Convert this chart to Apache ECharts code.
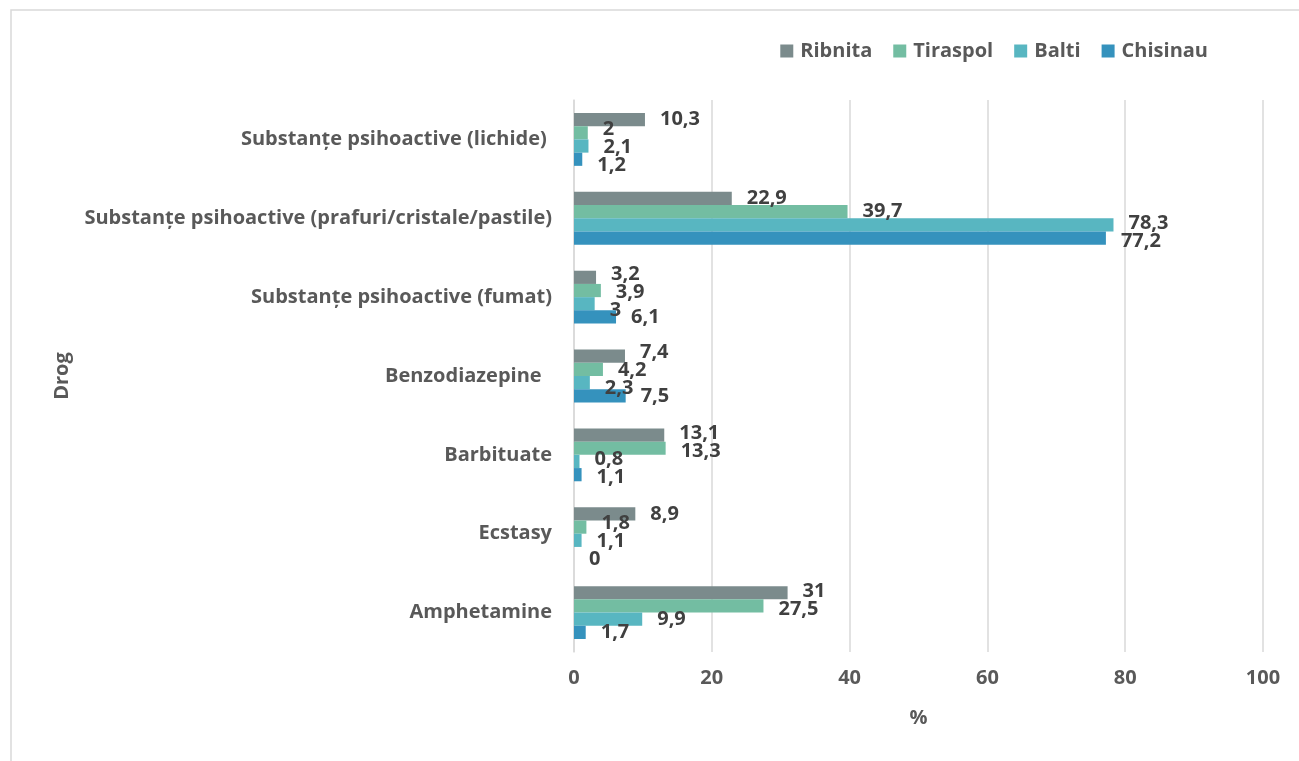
<!DOCTYPE html>
<html><head><meta charset="utf-8">
<script src="https://cdn.jsdelivr.net/npm/echarts@6/dist/echarts.min.js"></script>
<style>html,body{margin:0;padding:0;background:#fff}#c{width:1299px;height:761px}</style>
</head><body><div id="c"></div>
<script>
// categories listed bottom -> top (ECharts category y-axis order)
const categories = [
  'Amphetamine',
  'Ecstasy',
  'Barbituate',
  'Benzodiazepine  ',
  'Substanțe psihoactive (fumat)',
  'Substanțe psihoactive (prafuri/cristale/pastile)',
  'Substanțe psihoactive (lichide) '
];
const ribnita  = [31, 8.9, 13.1, 7.4, 3.2, 22.9, 10.3];
const tiraspol = [27.5, 1.8, 13.3, 4.2, 3.9, 39.7, 2];
const balti    = [9.9, 1.1, 0.8, 2.3, 3, 78.3, 2.1];
const chisinau = [1.7, 0, 1.1, 7.5, 6.1, 77.2, 1.2];
const xTicks = [0, 20, 40, 60, 80, 100];
const legendOrder = ['Ribnita', 'Tiraspol', 'Balti', 'Chisinau'];

const FONT = '"Open Sans", sans-serif';
const FS = 20;
const LABEL_DIST = 15;
const colors = {Ribnita:'#7b8b8c', Tiraspol:'#73bda2', Balti:'#58b6c1', Chisinau:'#3592bd'};
const seriesDefs = [['Ribnita', ribnita], ['Tiraspol', tiraspol], ['Balti', balti], ['Chisinau', chisinau]];
const fmt = v => String(v).replace('.', ',');

function mk(name, data) {
  return {
    name, type: 'bar', data: data.slice(),
    itemStyle: {color: colors[name]},
    barGap: '0%', barCategoryGap: '33%',
    label: {
      show: true, position: 'right', distance: LABEL_DIST,
      fontFamily: FONT, fontWeight: 'bold', fontSize: FS, color: '#404040',
      formatter: p => fmt(p.value)
    }
  };
}

const chart = echarts.init(document.getElementById('c'), null, {renderer: 'canvas'});
chart.setOption({
  animation: false,
  backgroundColor: '#fff',
  graphic: [{
    type: 'rect', shape: {x: 11, y: 10, width: 1300, height: 800},
    style: {fill: 'none', stroke: '#d9d9d9', lineWidth: 1.5}, silent: true, z: -1
  }],
  legend: {
    data: legendOrder, right: 86, top: 36, itemWidth: 13, itemHeight: 13, itemGap: 21,
    icon: 'rect',
    textStyle: {fontFamily: FONT, fontWeight: 'bold', fontSize: FS, color: '#595959', padding: [0, 0, 0, 2]}
  },
  grid: {left: 574, right: 36, top: 100, bottom: 109, containLabel: false},
  xAxis: {
    type: 'value', min: xTicks[0], max: xTicks[xTicks.length - 1], interval: 20,
    name: '%', nameLocation: 'middle', nameGap: 56,
    nameTextStyle: {fontFamily: FONT, fontWeight: 'bold', fontSize: FS, color: '#595959'},
    axisLine: {show: false}, axisTick: {show: false},
    axisLabel: {fontFamily: FONT, fontWeight: 'bold', fontSize: FS, color: '#595959', margin: 16},
    splitLine: {show: true, lineStyle: {color: '#d9d9d9', width: 1.5}}
  },
  yAxis: {
    type: 'category', data: categories,
    name: 'Drog', nameLocation: 'middle', nameGap: 502, nameRotate: 90,
    nameTextStyle: {fontFamily: FONT, fontWeight: 'bold', fontSize: FS, color: '#595959'},
    axisLine: {show: true, lineStyle: {color: '#d9d9d9', width: 1.5}},
    axisTick: {show: false},
    axisLabel: {fontFamily: FONT, fontWeight: 'bold', fontSize: FS, color: '#595959', margin: 22}
  },
  series: seriesDefs.map(([n, d]) => mk(n, d))
});

// De-overlap value labels vertically (like the spreadsheet's automatic label placement)
const ctx = document.createElement('canvas').getContext('2d');
ctx.font = 'bold ' + FS + 'px ' + FONT;
const GAP = 18;
const model = chart.getModel();
const offsets = seriesDefs.map(() => categories.map(() => 0));
for (let j = 0; j < categories.length; j++) {
  const labs = seriesDefs.map(([n, d], i) => {
    const lay = model.getSeriesByIndex(i).getData().getItemLayout(j);
    const xEnd = Math.max(lay.x, lay.x + lay.width);
    const yc = lay.y + lay.height / 2;
    const x0 = xEnd + LABEL_DIST;
    return {x0, x1: x0 + ctx.measureText(fmt(d[j])).width, y0: yc, y: yc};
  });
  for (let it = 0; it < 200; it++) {
    for (let a = 0; a < labs.length; a++) {
      for (let b = a + 1; b < labs.length; b++) {
        const A = labs[a], B = labs[b];
        const xo = A.x0 < B.x1 + 2 && B.x0 < A.x1 + 2;
        if (!xo) continue;
        const top = A.y <= B.y ? A : B, bot = top === A ? B : A;
        const d = bot.y - top.y;
        if (d < GAP) { const p = (GAP - d) / 2; top.y -= p * 0.8; bot.y += p * 1.2; }
      }
    }
  }
  labs.forEach((l, i) => { offsets[i][j] = l.y - l.y0; });
}
chart.setOption({
  series: seriesDefs.map(([n, d], i) => ({
    data: d.map((v, j) => ({value: v, label: {offset: [0, offsets[i][j]]}}))
  }))
});
</script></body></html>
